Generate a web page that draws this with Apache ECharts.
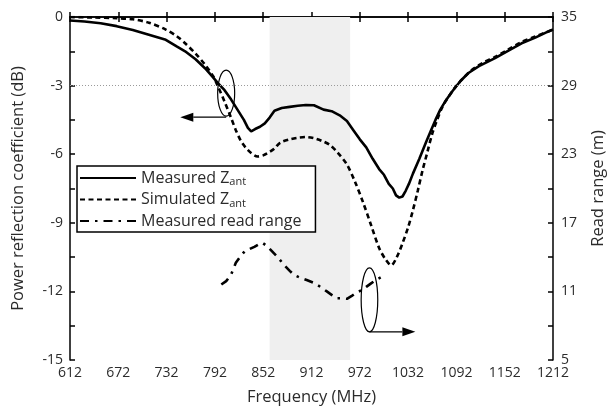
<!DOCTYPE html>
<html>
<head>
<meta charset="utf-8">
<script src="https://cdn.jsdelivr.net/npm/echarts@6/dist/echarts.min.js"></script>
<style>
  html, body { margin: 0; padding: 0; background: #fff; }
  #chart { width: 615px; height: 412px; }
</style>
</head>
<body>
<div id="chart"></div>
<script>
// frequency (MHz) / power reflection coefficient (dB)
const measuredFreq = [612, 630, 650, 670, 690, 710, 731, 745, 755, 768, 780, 790, 796, 804, 812, 820, 828, 833, 837, 842, 848, 854, 860, 866, 875, 885, 895, 905, 915, 927, 937, 947, 956, 964, 972, 980, 988, 996, 1002, 1008, 1013, 1017, 1021, 1025, 1029, 1033, 1038, 1046, 1054, 1060, 1066, 1072, 1078, 1087, 1097, 1107, 1120, 1140, 1155, 1173, 1190, 1205, 1212];
const measuredDb = [-0.15, -0.2, -0.27, -0.4, -0.57, -0.78, -1.0, -1.3, -1.5, -1.85, -2.25, -2.65, -2.9, -3.2, -3.6, -4.05, -4.5, -4.85, -5.0, -4.9, -4.8, -4.65, -4.4, -4.1, -3.98, -3.93, -3.88, -3.85, -3.86, -4.05, -4.12, -4.3, -4.55, -4.95, -5.35, -5.7, -6.2, -6.65, -6.9, -7.3, -7.5, -7.8, -7.9, -7.85, -7.6, -7.3, -6.85, -6.2, -5.5, -5.0, -4.5, -4.05, -3.7, -3.25, -2.8, -2.45, -2.15, -1.8, -1.5, -1.15, -0.9, -0.65, -0.55];

const simFreq = [612, 640, 670, 690, 710, 731, 745, 755, 768, 780, 790, 796, 804, 812, 818, 824, 830, 837, 845, 852, 860, 866, 873, 885, 895, 905, 915, 925, 935, 945, 956, 966, 976, 986, 996, 1004, 1011, 1018, 1025, 1032, 1038, 1044, 1050, 1056, 1062, 1068, 1075, 1082, 1090, 1100, 1110, 1125, 1140, 1155, 1173, 1190, 1205, 1212];
const simDb = [0, -0.02, -0.05, -0.1, -0.25, -0.55, -0.85, -1.15, -1.6, -2.1, -2.6, -3.05, -3.7, -4.4, -4.95, -5.4, -5.7, -5.95, -6.1, -6.05, -5.9, -5.75, -5.5, -5.35, -5.28, -5.25, -5.3, -5.42, -5.6, -5.95, -6.45, -7.2, -8.1, -9.1, -10.1, -10.6, -10.86, -10.5, -9.9, -9.2, -8.45, -7.6, -6.7, -5.9, -5.1, -4.5, -3.9, -3.5, -3.1, -2.7, -2.35, -2.0, -1.75, -1.45, -1.1, -0.85, -0.65, -0.55];

// frequency (MHz) / read range (m)
const rangeFreq = [800, 806, 812, 818, 824, 829, 835, 841, 846, 851, 856, 861, 870, 878, 885, 890, 898, 906, 915, 923, 931, 937, 943, 950, 956, 962, 968, 974, 980, 986, 992, 1000];
const rangeM = [11.6, 11.9, 12.45, 13.5, 14.1, 14.5, 14.7, 14.9, 15.1, 15.25, 15.0, 14.65, 14.0, 13.3, 12.8, 12.45, 12.2, 12.0, 11.75, 11.4, 11.0, 10.7, 10.4, 10.4, 10.35, 10.6, 10.9, 11.1, 11.4, 11.7, 12.0, 12.3];

const seriesNames = ['Measured Zant', 'Simulated Zant', 'Measured read range'];
const bandMHz = [860, 960];
const refLineDb = -3;

const pair = (xs, ys) => xs.map((x, i) => [x, ys[i]]);

const FONT = '"Open Sans", "DejaVu Sans", sans-serif';
const TXT = '#2b2b2b';

const chart = echarts.init(document.getElementById('chart'));

const option = {
  animation: false,
  backgroundColor: '#fff',
  textStyle: { fontFamily: FONT },
  grid: { left: 70, right: 56, top: 17, bottom: 52 },
  legend: {
    data: seriesNames,
    orient: 'vertical',
    left: 77,
    top: 166,
    padding: [4, 14, 3, 2],
    itemGap: 4,
    itemWidth: 56,
    itemHeight: 17,
    backgroundColor: '#fff',
    borderColor: '#000',
    borderWidth: 1.5,
    borderRadius: 0,
    itemStyle: { opacity: 0 },
    textStyle: {
      fontSize: 16,
      color: TXT,
      fontFamily: FONT,
      rich: {
        s: { fontSize: 11, padding: [8, 0, 0, 0], color: TXT, fontFamily: FONT }
      }
    },
    formatter: n => n.replace('Zant', 'Z{s|ant}')
  },
  xAxis: [{
    type: 'value',
    min: 612, max: 1212, interval: 60,
    name: 'Frequency (MHz)',
    nameLocation: 'middle',
    nameGap: 29,
    nameTextStyle: { fontSize: 16.5, color: TXT },
    axisLine: { lineStyle: { color: '#000', width: 1.5 } },
    axisTick: { inside: true, length: 5, lineStyle: { color: '#000', width: 1.5 } },
    axisLabel: { fontSize: 14, color: TXT, margin: 6, formatter: v => String(Math.round(v)) },
    splitLine: { show: false }
  }, {
    type: 'value',
    position: 'top',
    min: 612, max: 1212, interval: 60,
    axisLine: { lineStyle: { color: '#000', width: 1.5 } },
    axisTick: { inside: true, length: 5, lineStyle: { color: '#000', width: 1.5 } },
    axisLabel: { show: false },
    splitLine: { show: false }
  }],
  yAxis: [{
    type: 'value',
    min: -15, max: 0, interval: 1.5,
    name: 'Power reflection coefficient (dB)',
    nameLocation: 'middle',
    nameGap: 43,
    nameTextStyle: { fontSize: 16.5, color: TXT },
    axisLine: { show: true, lineStyle: { color: '#000', width: 1.5 } },
    axisTick: { inside: true, length: 5, lineStyle: { color: '#000', width: 1.5 } },
    axisLabel: {
      fontSize: 14, color: TXT, margin: 7,
      formatter: v => (Math.abs(v % 3) < 1e-6 ? String(Math.round(v)) : '')
    },
    splitLine: { show: false }
  }, {
    type: 'value',
    position: 'right',
    min: 5, max: 35, interval: 3,
    name: 'Read range (m)',
    nameLocation: 'middle',
    nameGap: 37,
    nameRotate: 90,
    nameTextStyle: { fontSize: 16.5, color: TXT },
    axisLine: { show: true, lineStyle: { color: '#000', width: 1.5 } },
    axisTick: { inside: true, length: 5, lineStyle: { color: '#000', width: 1.5 } },
    axisLabel: {
      fontSize: 14, color: TXT, margin: 8,
      formatter: v => ((Math.round(v) - 5) % 6 === 0 ? String(Math.round(v)) : '')
    },
    splitLine: { show: false }
  }],
  series: [{
    name: 'band',
    type: 'line',
    data: [],
    z: 1,
    silent: true,
    markArea: {
      silent: true,
      itemStyle: { color: '#efefef' },
      data: [[{ xAxis: bandMHz[0] }, { xAxis: bandMHz[1] }]]
    },
    markLine: {
      silent: true,
      symbol: 'none',
      label: { show: false },
      lineStyle: { color: '#9a9a9a', type: [1, 2], width: 1 },
      data: [{ yAxis: refLineDb }]
    }
  }, {
    name: seriesNames[0],
    type: 'line',
    data: pair(measuredFreq, measuredDb),
    symbol: 'none',
    z: 3,
    lineStyle: { color: '#000', width: 2.6 },
    itemStyle: { color: '#000' }
  }, {
    name: seriesNames[1],
    type: 'line',
    data: pair(simFreq, simDb),
    symbol: 'none',
    smooth: 0.3,
    z: 3,
    lineStyle: { color: '#000', width: 2.6, type: [5, 3.5] },
    itemStyle: { color: '#000' }
  }, {
    name: seriesNames[2],
    type: 'line',
    yAxisIndex: 1,
    data: pair(rangeFreq, rangeM),
    symbol: 'none',
    z: 3,
    lineStyle: { color: '#000', width: 2.6, type: [9, 6, 2.5, 6] },
    itemStyle: { color: '#000' }
  }]
};

chart.setOption(option);

// ellipse + arrow annotations pointing at each curve's axis
function marker(finder, center, arrowEnd, rx, ry, arrowY) {
  const c = chart.convertToPixel(finder, center);
  const a0 = chart.convertToPixel(finder, [center[0], arrowY]);
  const a1 = chart.convertToPixel(finder, [arrowEnd, arrowY]);
  const dir = Math.sign(a1[0] - a0[0]);
  const head = 13;
  return [{
    type: 'ellipse',
    shape: { cx: c[0], cy: c[1], rx: rx, ry: ry },
    style: { fill: 'none', stroke: '#000', lineWidth: 1.2 },
    z: 10
  }, {
    type: 'line',
    shape: { x1: a0[0], y1: a0[1], x2: a1[0] - dir * head, y2: a1[1] },
    style: { stroke: '#000', lineWidth: 1.2 },
    z: 10
  }, {
    type: 'polygon',
    shape: { points: [[a1[0], a1[1]], [a1[0] - dir * head, a1[1] - 4.5], [a1[0] - dir * head, a1[1] + 4.5]] },
    style: { fill: '#000' },
    z: 10
  }];
}

chart.setOption({
  graphic: [
    ...marker({ xAxisIndex: 0, yAxisIndex: 0 }, [806, -3.33], 749, 8.5, 23, -4.38),
    ...marker({ seriesIndex: 3 }, [984, 10.26], 1041, 8.3, 32, 7.46)
  ]
});
</script>
</body>
</html>
